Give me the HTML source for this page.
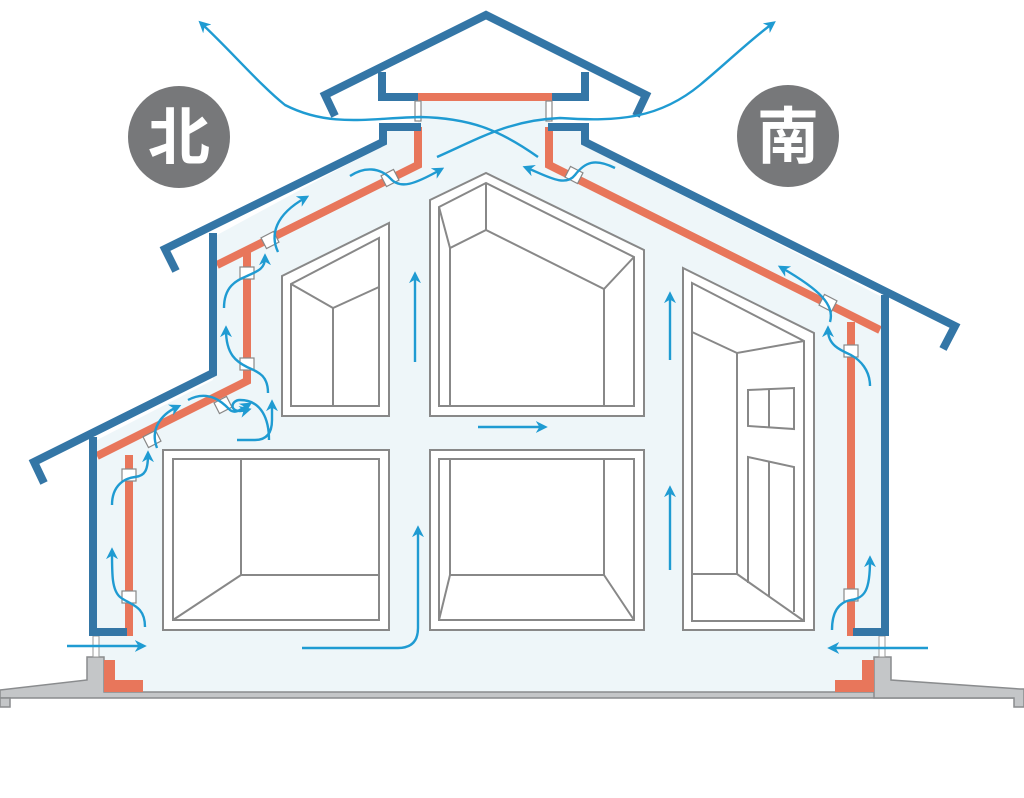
<!DOCTYPE html>
<html><head><meta charset="utf-8"><style>html,body{margin:0;padding:0;background:#fff}svg{display:block}</style></head>
<body>
<svg width="1024" height="798" viewBox="0 0 1024 798" xmlns="http://www.w3.org/2000/svg">
<defs>
<marker id="ah" viewBox="0 0 10 10" refX="6" refY="5" markerWidth="5" markerHeight="5" orient="auto-start-reverse"><path d="M0,0 L10,5 L0,10 L3,5 Z" fill="#1f9bd2"/></marker>
</defs>
<!-- interior fill -->
<polygon points="97,692 97,440 213,380 217,235 383,145 383,127 418,127 418,100 550,100 550,127 585,127 585,145 882,297 882,692" fill="#eef6f9"/>
<!-- rooms -->
<g fill="#fff" stroke="#888" stroke-width="2">
<polygon points="282,276 389,223 389,416 282,416"/>
<polygon points="291,284 379,238 379,406 291,406"/>
<polyline points="291,284 333,308 379,287" fill="none"/><line x1="333" y1="308" x2="333" y2="406"/>
<polygon points="430,200 486,173 644,250 644,416 430,416"/>
<polygon points="439,207 486,183 634,257 634,406 439,406"/>
<polyline points="439,207 450,248 486,230 604,289 634,257" fill="none"/>
<line x1="486" y1="183" x2="486" y2="230"/><line x1="450" y1="248" x2="450" y2="406"/><line x1="604" y1="289" x2="604" y2="406"/>
<polygon points="683,268 814,333 814,630 683,630"/>
<polygon points="692,283 804,341 804,621 692,621"/>
<polyline points="692,332 737,353 804,341" fill="none"/>
<line x1="737" y1="353" x2="737" y2="574"/><line x1="692" y1="574" x2="737" y2="574"/><line x1="737" y1="574" x2="804" y2="621"/>
<polygon points="748,390 794,388 794,429 748,426"/><line x1="769" y1="389" x2="769" y2="427"/>
<polyline points="748,583 748,457 794,467 794,612" fill="none"/><line x1="769" y1="462" x2="769" y2="597"/>
<rect x="163" y="450" width="226" height="180"/>
<rect x="173" y="459" width="206" height="161"/>
<polyline points="241,459 241,575 379,575" fill="none"/><line x1="241" y1="575" x2="173" y2="620"/>
<rect x="430" y="450" width="214" height="180"/>
<rect x="439" y="459" width="195" height="161"/>
<polyline points="450,459 450,575 604,575 604,459" fill="none"/>
<line x1="450" y1="575" x2="439" y2="620"/><line x1="604" y1="575" x2="634" y2="620"/>
</g>
<!-- floor & footings -->
<g fill="#c4c6c8" stroke="#8a8c8e" stroke-width="1.5">
<polygon points="0,707 0,690 87,680 87,657 104,657 104,692 1024,692 1024,698 0,698"/>
<polygon points="0,698 10,698 10,707 0,707"/>
<polygon points="874,657 891,657 891,680 1020,689 1024,689 1024,707 1014,707 1014,698 874,698"/>
</g>
<g fill="#e8765b">
<polygon points="104,660 115,660 115,680 143,680 143,692 104,692"/>
<polygon points="835,680 862,680 862,660 874,660 874,692 835,692"/>
</g>
<g fill="#fff" stroke="#999" stroke-width="1">
<rect x="93" y="636" width="6" height="21"/><rect x="879" y="636" width="6" height="21"/>
</g>
<!-- red inner lines -->
<g fill="none" stroke="#e8765b" stroke-width="8" stroke-linejoin="miter">
<polyline points="417,97 552,97"/>
<polyline points="418,127 418,165 217,265"/>
<polyline points="247,252 247,381 97,456"/>
<polyline points="129,455 129,636"/>
<polyline points="549,127 549,165 880,330"/>
<polyline points="851,322 851,636"/>
</g>
<!-- blue structure -->
<g fill="none" stroke="#3476a6" stroke-width="8" stroke-linejoin="miter">
<polyline points="335,116 325,95 486,15 646,95 636,116"/>
<polyline points="382,72 382,97 418,97"/>
<polyline points="552,97 585,97 585,72"/>
<polyline points="421,127 383,127 383,142 165,249 176,271"/>
<polyline points="213,233 213,373 34,462 44,483"/>
<polyline points="93,437 93,632 127,632"/>
<polyline points="548,127 585,127 585,142 955,326 943,349"/>
<polyline points="885,295 885,632 853,632"/>
</g>
<!-- vents -->
<g fill="#fff" stroke="#888" stroke-width="1.2">
<rect x="415" y="101" width="6" height="20"/><rect x="546" y="101" width="6" height="20"/>
<rect x="122" y="591" width="14" height="12"/><rect x="122" y="469" width="14" height="12"/>
<rect x="240" y="358" width="14" height="12"/><rect x="240" y="267" width="14" height="12"/>
<rect x="844" y="589" width="14" height="12"/><rect x="844" y="345" width="14" height="12"/>
<rect x="-7" y="-6" width="14" height="12" transform="translate(152,439) rotate(-27)"/>
<rect x="-7" y="-6" width="14" height="12" transform="translate(223,405) rotate(-27)"/>
<rect x="-7" y="-6" width="14" height="12" transform="translate(270,240) rotate(-27)"/>
<rect x="-7" y="-6" width="14" height="12" transform="translate(390,178) rotate(-27)"/>
<rect x="-7" y="-6" width="14" height="12" transform="translate(574,175) rotate(27)"/>
<rect x="-7" y="-6" width="14" height="12" transform="translate(828,303) rotate(27)"/>
</g>
<!-- arrows -->
<g fill="none" stroke="#1f9bd2" stroke-width="2.4" marker-end="url(#ah)">
<path d="M538,157 C500,130 470,118 420,117 C370,118 330,128 285,105 C260,85 230,50 202,24"/>
<path d="M437,157 C480,138 510,120 560,118 C620,122 660,118 700,85 C730,60 750,40 772,24"/>
<path d="M415,362 V276"/>
<path d="M670,360 V296"/>
<path d="M670,570 V490"/>
<path d="M302,648 H398 Q418,648 418,628 V530"/>
<path d="M478,427 H543"/>
<path d="M67,646 H142"/>
<path d="M928,648 H832"/>
<path d="M145,627 C145,605 130,605 120,597 C112,590 112,575 112,552"/>
<path d="M112,505 C112,485 125,478 135,477 C145,476 148,470 148,455"/>
<path d="M157,448 C150,430 160,415 177,407"/>
<path d="M269,440 C269,420 262,400 240,400 C230,400 228,415 247,410"/>
<path d="M237,440 H255 Q272,440 272,420 V404"/>
<path d="M188,400 C210,388 225,405 230,410 C235,414 240,410 248,405"/>
<path d="M268,393 C268,375 258,372 247,367 C237,362 226,355 226,330"/>
<path d="M224,308 C224,285 238,280 247,276 C255,272 265,270 265,258"/>
<path d="M278,252 C270,235 275,215 305,198"/>
<path d="M350,176 C365,166 380,168 390,178 C400,190 415,184 440,170"/>
<path d="M615,168 C595,158 585,162 575,175 C565,188 545,175 527,168"/>
<path d="M830,322 C835,305 820,290 782,268"/>
<path d="M870,386 C870,370 860,360 851,355 C840,350 828,345 828,330"/>
<path d="M832,630 C832,610 840,602 851,600 C865,598 870,590 870,560"/>
</g>
<!-- direction badges -->
<circle cx="179" cy="137" r="51" fill="#77787a"/>
<circle cx="788" cy="136" r="51" fill="#77787a"/>
<text x="179" y="159" font-family="'Liberation Sans','Noto Sans CJK JP',sans-serif" font-size="62" font-weight="bold" fill="#fff" text-anchor="middle">北</text>
<text x="788" y="158" font-family="'Liberation Sans','Noto Sans CJK JP',sans-serif" font-size="62" font-weight="bold" fill="#fff" text-anchor="middle">南</text>
</svg>
</body></html>
